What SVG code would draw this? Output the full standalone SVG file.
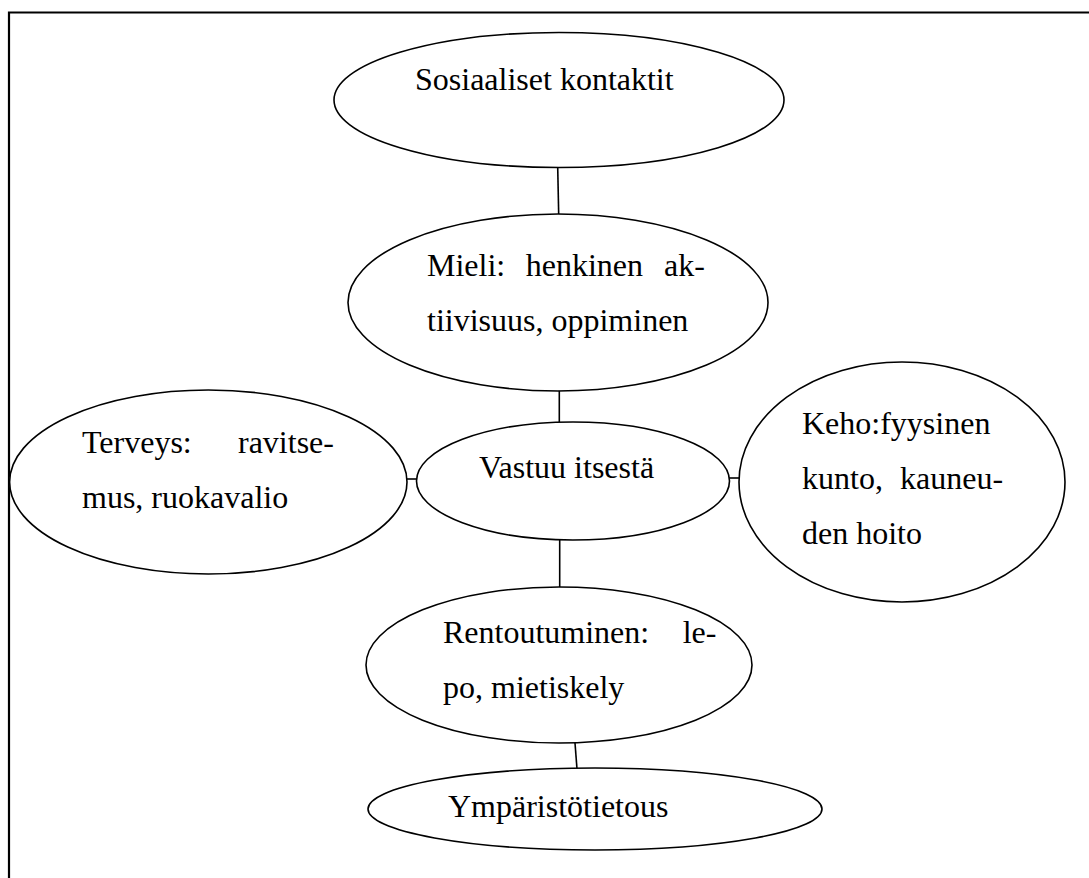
<svg xmlns="http://www.w3.org/2000/svg" width="1089" height="878" viewBox="0 0 1089 878">
<style>
.n{fill:#fff;stroke:#000;stroke-width:1.6}
.c line{stroke:#000;stroke-width:1.6}
text{font-family:"Liberation Serif","Times New Roman",serif;font-size:32px;fill:#000}
.b{stroke:#000;stroke-width:2.2;fill:none}
</style>
<rect width="1089" height="878" fill="#fff"/>
<path class="b" d="M9,878 V12.5 H1089"/>
<g class="c" id="connectors">
<line x1="557.7" y1="167" x2="558.7" y2="215"/>
<line x1="559.3" y1="391" x2="559.3" y2="422"/>
<line x1="407" y1="479" x2="417" y2="479"/>
<line x1="729" y1="478" x2="740" y2="478"/>
<line x1="559.7" y1="540" x2="559.7" y2="587"/>
<line x1="575" y1="743" x2="577" y2="769"/>
</g>
<g id="sosiaaliset">
<ellipse class="n" cx="559" cy="100" rx="225" ry="67.5"/>
<text x="415" y="90">Sosiaaliset kontaktit</text>
</g>
<g id="mieli">
<ellipse class="n" cx="558" cy="302.5" rx="210" ry="88.5"/>
<text y="276"><tspan x="427">Mieli:</tspan><tspan x="525.7">henkinen</tspan><tspan x="664">ak-</tspan></text>
<text x="427" y="331">tiivisuus, oppiminen</text>
</g>
<g id="vastuu">
<ellipse class="n" cx="573" cy="481" rx="156.5" ry="59"/>
<text x="479" y="478">Vastuu itsestä</text>
</g>
<g id="terveys">
<ellipse class="n" cx="208.3" cy="482" rx="198.7" ry="92"/>
<text y="453"><tspan x="82">Terveys:</tspan><tspan x="238">ravitse-</tspan></text>
<text x="82" y="508">mus, ruokavalio</text>
</g>
<g id="keho">
<ellipse class="n" cx="902" cy="482" rx="163" ry="120"/>
<text x="802" y="434">Keho:fyysinen</text>
<text y="489"><tspan x="802">kunto,</tspan><tspan x="900">kauneu-</tspan></text>
<text x="802" y="544">den hoito</text>
</g>
<g id="rentoutuminen">
<ellipse class="n" cx="559" cy="665" rx="193" ry="78"/>
<text y="643"><tspan x="443">Rentoutuminen:</tspan><tspan x="682.7">le-</tspan></text>
<text x="443" y="698">po, mietiskely</text>
</g>
<g id="ymparisto">
<ellipse class="n" cx="595" cy="809" rx="227" ry="41"/>
<text x="448" y="817">Ympäristötietous</text>
</g>
</svg>
